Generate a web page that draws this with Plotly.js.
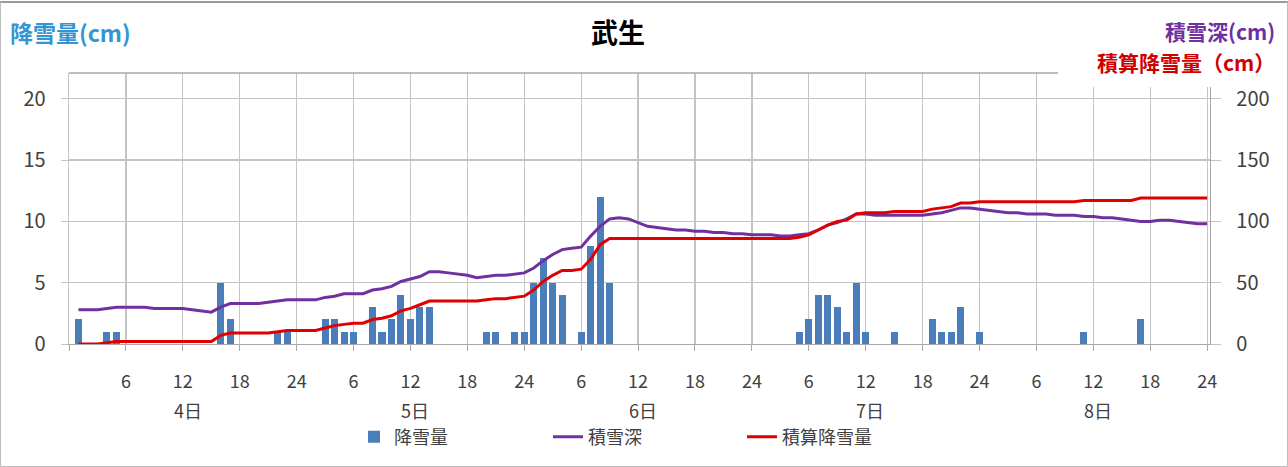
<!DOCTYPE html>
<html>
<head>
<meta charset="utf-8">
<script src="https://cdn.plot.ly/plotly-3.0.1.min.js"></script>
<style>
html,body{margin:0;padding:0;background:#fff;}
#wrap{position:relative;width:1288px;height:467px;}
#chart{width:1288px;height:467px;}
#frame{position:absolute;left:0;top:1px;width:1286px;height:463px;border:1px solid #bdbdbd;border-top:2px solid #9a9a9a;pointer-events:none;}
</style>
</head>
<body>
<div id="wrap"><div id="chart"></div><div id="frame"></div></div>
<script>
// hours 1..120 (4日 1時 .. 8日 24時)
const dayLabels = ['4日','5日','6日','7日','8日'];
const hourTickLabels = ['6','12','18','24'];
const seriesNames = ['降雪量','積雪深','積算降雪量'];

// 降雪量 (cm, hourly)
const snowfall = [
  2,0,0,1,1,0,0,0,0,0,0,0,0,0,0,5,2,0,0,0,0,1,1,0,
  0,0,2,2,1,1,0,3,1,2,4,2,3,3,0,0,0,0,0,1,1,0,1,1,
  5,7,5,4,0,1,8,12,5,0,0,0,0,0,0,0,0,0,0,0,0,0,0,0,
  0,0,0,0,1,2,4,4,3,1,5,1,0,0,1,0,0,0,2,1,1,3,0,1,
  0,0,0,0,0,0,0,0,0,0,1,0,0,0,0,0,2,0,0,0,0,0,0,0
];
// 積雪深 (cm)
const snowDepth = [
  28,28,28,29,30,30,30,30,29,29,29,29,28,27,26,30,33,33,33,33,34,35,36,36,
  36,36,38,39,41,41,41,44,45,47,51,53,55,59,59,58,57,56,54,55,56,56,57,58,
  62,68,73,77,78,79,88,96,102,103,102,99,96,95,94,93,93,92,92,91,91,90,90,89,
  89,89,88,88,89,90,93,97,99,102,106,106,105,105,105,105,105,105,106,107,109,111,111,110,
  109,108,107,107,106,106,106,105,105,105,104,104,103,103,102,101,100,100,101,101,100,99,98,98
];
// 積算降雪量 (cm)
const cumSnowfall = [
  0,0,0,1,2,2,2,2,2,2,2,2,2,2,2,7,9,9,9,9,9,10,11,11,
  11,11,13,15,16,17,17,20,21,23,27,29,32,35,35,35,35,35,35,36,37,37,38,39,
  44,51,56,60,60,61,69,81,86,86,86,86,86,86,86,86,86,86,86,86,86,86,86,86,
  86,86,86,86,87,89,93,97,100,101,106,107,107,107,108,108,108,108,110,111,112,115,115,116,
  116,116,116,116,116,116,116,116,116,116,117,117,117,117,117,117,119,119,119,119,119,119,119,119
];

const hours = snowfall.map((_, i) => i + 1);
const tickVals = [0];
const tickText = [''];
for (let d = 0; d < dayLabels.length; d++) {
  hourTickLabels.forEach((t, k) => { tickVals.push(d * 24 + (k + 1) * 6); tickText.push(t); });
}

const FONT = '"Noto Sans CJK JP", "Noto Sans", sans-serif';
const GRID = '#c4c4c4';
const TXT = '#404040';

const traces = [
  {type:'bar', x:hours, y:snowfall, name:seriesNames[0], marker:{color:'#4a7ebb'}, width:0.74, yaxis:'y'},
  {type:'scatter', mode:'lines', x:hours, y:snowDepth, name:seriesNames[1], line:{color:'#7030a0', width:3}, yaxis:'y2'},
  {type:'scatter', mode:'lines', x:hours, y:cumSnowfall, name:seriesNames[2], line:{color:'#e00000', width:3}, yaxis:'y2'}
];

const L = 69, R = 1210, T = 73, B = 344;
const W = R - L, H = B - T;
const px = v => (v - L) / W;
const py = v => (B - v) / H;

const annotations = [
  {text:'<b>武生</b>', x:px(618), y:py(31), xref:'paper', yref:'paper', showarrow:false, xanchor:'center', yanchor:'middle', font:{family:FONT, size:27, color:'#000'}},
  {text:'<b>降雪量(cm)</b>', x:px(8), y:py(32), xref:'paper', yref:'paper', showarrow:false, xanchor:'left', yanchor:'middle', font:{family:FONT, size:23, color:'#3396d3'}},
  {text:'<b>積雪深(cm)</b>', x:px(1277), y:py(31), xref:'paper', yref:'paper', showarrow:false, xanchor:'right', yanchor:'middle', font:{family:FONT, size:21, color:'#7030a0'}},
  {text:'<b>積算降雪量（cm）</b>', x:px(1277), y:py(62), xref:'paper', yref:'paper', showarrow:false, xanchor:'right', yanchor:'middle', font:{family:FONT, size:21, color:'#d00000'}}
];
dayLabels.forEach((d, i) => {
  annotations.push({text:d, x:i * 24 + 12.5, y:py(410), xref:'x', yref:'paper', showarrow:false, xanchor:'center', yanchor:'middle', font:{family:FONT, size:18, color:TXT}});
});

const layout = {
  width:1288, height:467,
  margin:{l:L, r:1288 - R, t:T, b:467 - B, pad:0},
  paper_bgcolor:'#fff', plot_bgcolor:'#fff',
  font:{family:FONT, size:17, color:TXT},
  showlegend:true,
  legend:{orientation:'h', x:px(354), xanchor:'left', y:py(437), yanchor:'middle', font:{family:FONT, size:18, color:TXT}, entrywidth:149, entrywidthmode:'pixels', traceorder:'normal'},
  bargap:0,
  xaxis:{range:[0, 120.3], tickmode:'array', tickvals:tickVals, ticktext:tickText, showgrid:true, gridcolor:GRID, gridwidth:1.3,
         zeroline:false, showline:true, linecolor:'#a8a8a8', linewidth:1.3, ticks:'outside', ticklen:6, tickcolor:'#a8a8a8',
         ticklabelstandoff:15, tickfont:{family:FONT, size:18, color:TXT}, fixedrange:true},
  yaxis:{range:[0, 22.1], tick0:0, dtick:5, showgrid:true, gridcolor:GRID, gridwidth:1.3, zeroline:false,
         showline:true, linecolor:GRID, linewidth:1.3, ticks:'outside', ticklen:7, tickcolor:GRID,
         ticklabelstandoff:11, tickfont:{family:FONT, size:20, color:TXT}, fixedrange:true},
  yaxis2:{range:[0, 221], tick0:0, dtick:50, overlaying:'y', side:'right', showgrid:false, zeroline:false,
          showline:true, linecolor:'#a8a8a8', linewidth:1.3, ticks:'outside', ticklen:10, tickcolor:GRID,
          ticklabelstandoff:11, tickfont:{family:FONT, size:20, color:TXT}, fixedrange:true},
  shapes:[
    {type:'line', xref:'paper', yref:'paper', x0:0, x1:px(1058), y0:1, y1:1, line:{color:'#a8a8a8', width:1.3}},
    {type:'rect', xref:'paper', yref:'paper', x0:px(1059), x1:px(1286), y0:py(87), y1:py(3), line:{width:0}, fillcolor:'#fff', layer:'above'}
  ],
  annotations:annotations
};

Plotly.newPlot('chart', traces, layout, {staticPlot:true, displayModeBar:false});
</script>
</body>
</html>
